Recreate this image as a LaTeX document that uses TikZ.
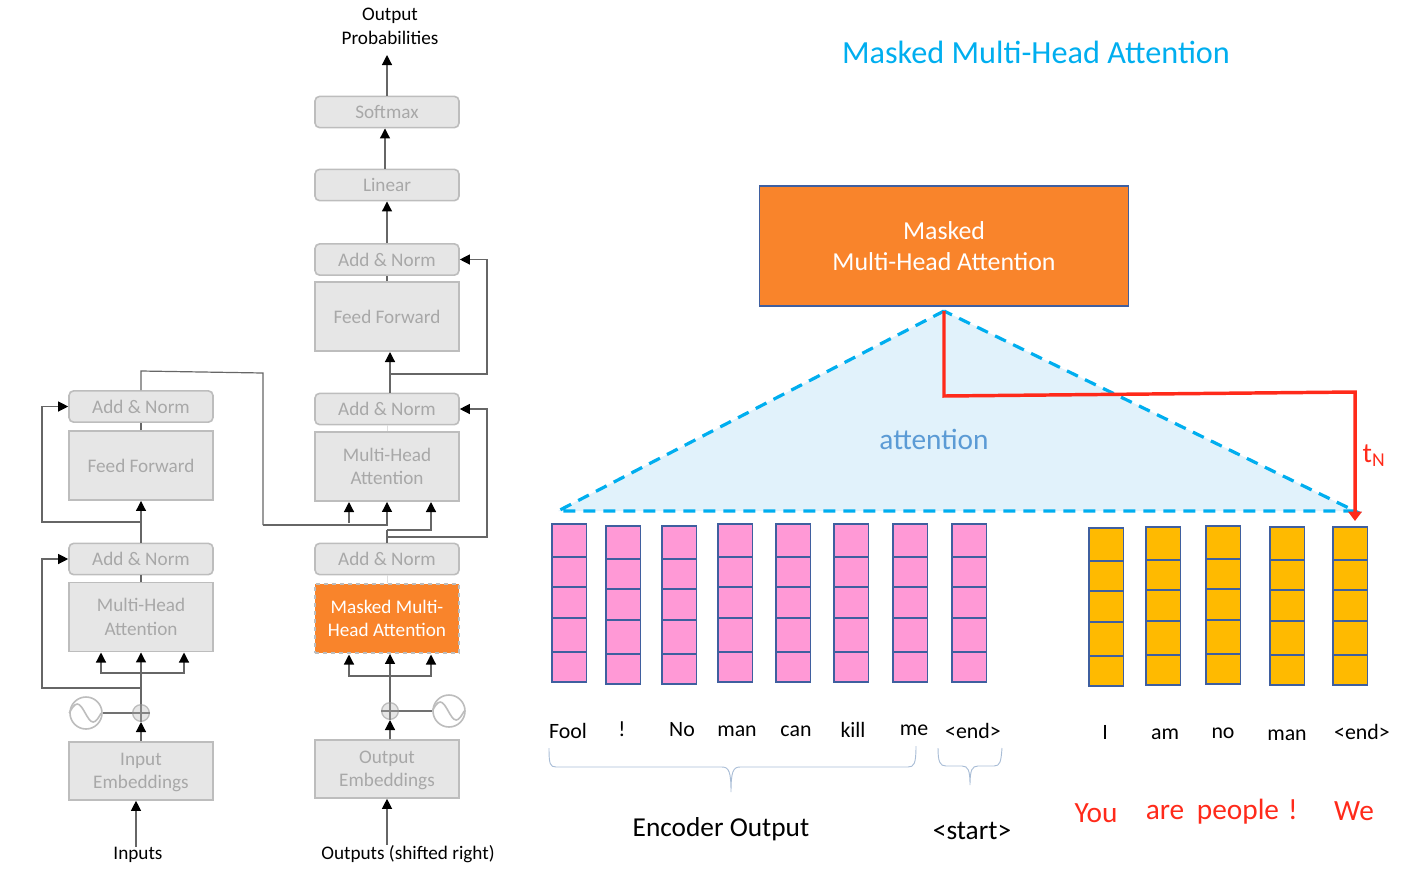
\documentclass[tikz,border=0pt]{standalone}
\usepackage{fontspec}
\setmainfont{Carlito}
\usetikzlibrary{arrows.meta}

\definecolor{boxgray}{HTML}{E6E6E6}
\definecolor{boxedge}{HTML}{BDBDBD}
\definecolor{textgray}{HTML}{A8A8A8}
\definecolor{linegray}{HTML}{666666}
\definecolor{maskorange}{HTML}{F9842B}
\definecolor{skyblue}{HTML}{00AEEF}
\definecolor{paleblue}{HTML}{E1F2FB}
\definecolor{attblue}{HTML}{5B9BD5}
\definecolor{stackedge}{HTML}{3F5F9F}
\definecolor{cellpink}{HTML}{FF99D6}
\definecolor{cellyellow}{HTML}{FFBA00}
\definecolor{bracegray}{HTML}{A9BDD6}
\definecolor{redline}{HTML}{FF2A1A}

\tikzset{
  flatbox/.style={draw=boxedge, fill=boxgray, line width=1.2pt, text=textgray, align=center,
    minimum width=108pt, inner sep=0pt, font=\fontsize{14.4}{17.5}\selectfont},
  normbox/.style={flatbox, rounded corners=3.5pt, minimum height=23.5pt},
  tallbox/.style={flatbox, minimum height=52pt},
  embedbox/.style={flatbox, minimum height=43.5pt},
  conn/.style={draw=linegray, line width=0.9pt},
  arr/.style={conn, -{Triangle[length=7.5pt,width=7.5pt,black]}},
  word/.style={font=\fontsize{16.4}{18}\selectfont, text=black, inner sep=0pt},
  redword/.style={font=\fontsize{22}{25}\selectfont, text=redline, inner sep=0pt},
  plain/.style={font=\fontsize{14.4}{17.5}\selectfont, text=black, align=center, inner sep=0pt},
  addcircle/.style={circle, draw=boxedge, fill=boxgray, line width=1pt, minimum size=12.5pt, inner sep=0pt},
  sinecircle/.style={circle, draw=boxedge, fill=white, line width=1.2pt, minimum size=24pt, inner sep=0pt},
  cell/.style={draw=stackedge, line width=0.9pt},
  bracket/.style={draw=bracegray, line width=0.7pt}
}

% one column of five cells: x, top y, fill
\newcommand{\wordstack}[3]{
  \foreach \yo/\yn in {0/33,33/63,63/94,94/128,128/158}
    \draw[cell, fill=#3] (#1,#2+\yo) rectangle (#1+34.5,#2+\yn);
}

\begin{document}
\begin{tikzpicture}[x=0.75pt, y=-0.75pt]
\useasboundingbox (0,0) rectangle (1427,879);

% Encoder column
\node[embedbox] (inputemb) at (141,771) {Input\\Embeddin\smash{g}s};
\node[tallbox] (encatt) at (141,617) {Multi-Head\\Attention};
\node[normbox] (encadda) at (141,559) {Add \& Norm};
\node[tallbox] (encff) at (141,465.5) {Feed Forward};
\node[normbox] (encaddb) at (141,406.5) {Add \& Norm};
\node[addcircle] (encplus) at (141,713) {};
\node[sinecircle] (encsine) at (86,713) {};
\node[plain] (inputs) at (138,855) {Inputs};

% Decoder column
\node[embedbox] (outputemb) at (387,769) {Output\\Embeddin\smash{g}s};
\node[flatbox, draw=boxedge, dashed, fill=maskorange, text=white, minimum height=52pt] (maskatt) at (387,618.5) {Masked Multi-\\Head Attention};
\node[normbox] (decadda) at (387,559) {Add \& Norm};
\node[tallbox] (decatt) at (387,466.5) {Multi-Head\\Attention};
\node[normbox] (decaddb) at (387,409) {Add \& Norm};
\node[tallbox] (decff) at (387,316.5) {Feed Forward};
\node[normbox] (decaddc) at (387,259.5) {Add \& Norm};
\node[normbox] (linear) at (387,185) {Linear};
\node[normbox] (softmax) at (387,112) {Softmax};
\node[addcircle] (decplus) at (390,711) {};
\node[sinecircle] (decsine) at (449,711) {};
\node[plain] (outputs) at (408,854) {Outputs (shifted right)};
\node[plain] (probs) at (390,26.5) {Output\\Probabilities};

% Plus signs and sine waves
\foreach \c in {encplus,decplus} {
  \draw[boxedge!70!black, line width=0.8pt] (\c.north) -- (\c.south);
  \draw[boxedge!70!black, line width=0.8pt] (\c.west) -- (\c.east);
}
\foreach \c in {encsine,decsine}
  \draw[boxedge, line width=1.2pt] (\c.west) sin ++(8,-9) cos ++(8,9) sin ++(8,9) cos ++(8,-9);

% Helper points of the encoder lines
\coordinate (encleft) at (42,500);
\coordinate (encbranch) at (141,673);
\coordinate (encresa) at (141,688);
\coordinate (encresb) at (141,522);
\coordinate (enca) at (101,652.5);
\coordinate (encb) at (184,652.5);
\coordinate (mema) at (141,371);
\coordinate (memb) at (263,373);
\coordinate (memc) at (263,525);

% Encoder lines
\draw[arr] ([xshift=-1.5pt]inputs.north) -- ([xshift=-3.75pt]inputemb.south);
\draw[arr] (inputemb.north) -- (encplus.south);
\draw[conn, boxedge!60!black] (encsine.east) -- (encplus.west);
\draw[arr] (encplus.north) -- (encatt.south);
\draw[arr] (encbranch) -| (enca);
\draw[arr] (encbranch) -| (encb);
\draw[arr] (encresa) -| (encleft |- encadda.west) -- (encadda.west);
\draw[conn] (encatt.north) -- (encadda.south);
\draw[arr] (encadda.north) -- (encff.south);
\draw[arr] (encresb) -| (encleft |- encaddb.west) -- (encaddb.west);
\draw[conn] (encff.north) -- (encaddb.south);
\draw[conn] (encaddb.north) -- (mema) -- (memb) -- (memc);

% Helper points of the decoder lines
\coordinate (decbranch) at (390,676);
\coordinate (maska) at (349,654.5);
\coordinate (maskb) at (431,654.5);
\coordinate (decright) at (487,400);
\coordinate (decsplit) at (387,537);
\coordinate (decsplitb) at (387,530);
\coordinate (atta) at (349,502);
\coordinate (attb) at (431,502);
\coordinate (attlow) at (387,525);
\coordinate (atttip) at (349,523);
\coordinate (ffleft) at (390,393);
\coordinate (fftip) at (390,352);
\coordinate (ffres) at (390,374);
\coordinate (outtip) at (387,55);

% Decoder lines
\draw[arr] (outputs.north -| outputemb.south) -- (outputemb.south);
\draw[arr] (decplus |- outputemb.north) -- (decplus.south);
\draw[conn, boxedge!60!black] (decsine.west) -- (decplus.east);
\draw[arr] (decplus.north) -- (decplus |- maskatt.south);
\draw[arr] (decbranch) -| (maska);
\draw[arr] (decbranch) -| (maskb);
\draw[boxedge!50, line width=0.6pt] (maskatt.north) -- (decadda.south);
\draw[conn] (decadda.north) -- (decsplit);
\draw[conn] (decsplit) -- (decsplitb);
\draw[arr] (decsplitb) -| (attb);
\draw[arr] (decsplit) -| (decright |- decaddb.east) -- (decaddb.east);
\draw[arr] (memc) -- (attlow) -- (decatt.south);
\draw[arr] (atttip) -- (atta);
\draw[boxedge!50, line width=0.6pt] (decatt.north) -- (decaddb.south);
\draw[arr] (ffleft) -- (fftip);
\draw[arr] (ffres) -| (decright |- decaddc.east) -- (decaddc.east);
\draw[conn] (decff.north) -- (decaddc.south);
\draw[arr] (decaddc.north) -- (linear.south);
\draw[arr] ([xshift=-1.5pt]linear.north) -- ([xshift=-1.5pt]softmax.south);
\draw[arr] (softmax.north) -- (outtip);

% Title and attention box
\node[font=\fontsize{24.2}{28}\selectfont, text=skyblue, inner sep=0pt] (title) at (1036,52.5) {Masked Multi-Head Attention};
\node[draw=stackedge, fill=maskorange, line width=1.2pt, text=white, align=center, minimum width=277pt, minimum height=90pt,
  font=\fontsize{19.4}{23}\selectfont] (maskbox) at (944,246) {Masked\\Multi-Head Attention};

% Attention triangle
\coordinate (apex) at (944,311);
\coordinate (leftcorner) at (558,511);
\coordinate (rightcorner) at (1355,511);
\fill[paleblue] (apex) -- (leftcorner) -- (rightcorner) -- cycle;
\draw[skyblue, line width=2.4pt, dash pattern=on 9pt off 6pt] (apex) -- (leftcorner) -- (rightcorner) -- (apex);
\node[font=\fontsize{22}{25}\selectfont, text=attblue, inner sep=0pt] (attention) at (934,439) {attention};

% Red pointer
\coordinate (redknee) at (944,396);
\coordinate (redcorner) at (1355,392);
\coordinate (redtip) at (1355,521);
\draw[redline, line width=2.6pt, -{Triangle[length=7pt,width=10pt]}] (apex) -- (redknee) -- (redcorner) -- (redtip);
\node[redword, font=\fontsize{21}{23}\selectfont] (tn) at (1374,456) {t\textsubscript{N}};

% Encoder output stacks
\foreach \x/\y in {552/524,606/526,662/526,718/524,776/524,834/524,893/524,952/524} {
  \wordstack{\x}{\y}{cellpink}
}

% Decoder stacks
\foreach \x/\y in {1089/528,1146/527,1206/526,1270/527,1333/527} {
  \wordstack{\x}{\y}{cellyellow}
}

% Words under the stacks
\foreach \x/\y/\n/\t in {568/730.5/fool/Fool,622/729.5/bang/!,682/729.5/no/No,737/731/man/man,796/731/can/can,853/729.5/kill/kill,914/730/me/me,973/731/endA/<end>,
  1105/732/i/I,1165/734/am/am,1223/733/nob/no,1287/735/manb/man,1362/731.5/endB/<end>}
  \node[word] (\n) at (\x,\y) {\t};

% Braces
\draw[bracket] (549,748) .. controls (549,764) and (550,767) .. (556,767) -- (722,767) .. controls (729,767) and (731,772) .. (731,792)
  .. controls (731,772) and (733,767) .. (740,767) -- (908,767) .. controls (914,767) and (916,764) .. (916,746);
\draw[bracket] (938,748) .. controls (938,762) and (940,766) .. (946,766) -- (962,766) .. controls (968,766) and (970,770) .. (970,785)
  .. controls (970,770) and (972,766) .. (978,766) -- (994,766) .. controls (1000,766) and (1001,762) .. (1002,748);

% Bottom labels
\node[font=\fontsize{20.5}{23}\selectfont, inner sep=0pt] (encoutput) at (721,829) {Encoder Output};
\node[font=\fontsize{20.5}{23}\selectfont, inner sep=0pt] (start) at (972,831) {<start>};
\foreach \x/\y/\n/\t in {1096/813/you/You,1165/812/are/are,1238/812/people/people,1293/810/mark/!,1354/811/we/We}
  \node[redword] (\n) at (\x,\y) {\t};

\end{tikzpicture}
\end{document}
